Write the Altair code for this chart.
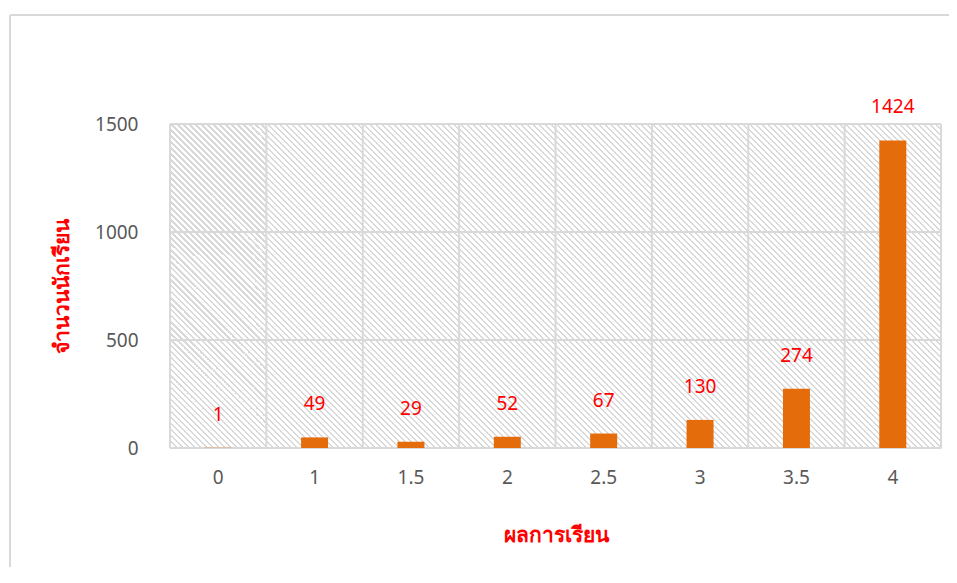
import altair as alt
import pandas as pd

grades = ["0", "1", "1.5", "2", "2.5", "3", "3.5", "4"]
counts = [1, 49, 29, 52, 67, 130, 274, 1424]
y_ticks = [0, 500, 1000, 1500]

W, H = 771, 324

df = pd.DataFrame({"grade": grades, "count": counts})
ticks_df = pd.DataFrame({"v": y_ticks})

# striped (hatched) background per category cell: linear gradient with hard
# stops, 45-degree stripes with a horizontal period of 6 px
CW = W / len(grades)
PERIOD = 6
N = int((CW + H) // PERIOD) + 1
span = N * PERIOD
frac = 0.34
stops = []
for i in range(N):
    a = i / N
    b = (i + frac) / N
    c = (i + 1) / N
    stops += [
        {"offset": a, "color": "#d9d9d9"},
        {"offset": b, "color": "#d9d9d9"},
        {"offset": b, "color": "#ffffff"},
        {"offset": c, "color": "#ffffff"},
    ]
k = span / (CW * CW + H * H)
gradient = alt.LinearGradient(
    gradient="linear",
    stops=stops,
    x1=0, y1=1, x2=CW * k, y2=1 - H * k,
)

x_scale = alt.Scale(domain=grades, paddingInner=0, paddingOuter=0)
y_scale = alt.Scale(domain=[0, 1500], nice=False)

one = alt.Data(values=[{}])
line_col = "#d9d9d9"

border_top = alt.Chart(one).mark_rule(color=line_col, strokeWidth=2).encode(
    x=alt.value(-160), x2=alt.value(W + 200), y=alt.value(-109)
)
border_left = alt.Chart(one).mark_rule(color=line_col, strokeWidth=2).encode(
    x=alt.value(-160), y=alt.value(-109), y2=alt.value(H + 300)
)

bg = alt.Chart(df).mark_rect(fill=gradient).encode(
    x=alt.X("grade:N", scale=x_scale, sort=grades), y=alt.value(0), y2=alt.value(H)
)

hgrid = alt.Chart(ticks_df).mark_rule(color=line_col, strokeWidth=2).encode(
    y=alt.Y("v:Q", scale=y_scale), x=alt.value(0), x2=alt.value(W)
)

vgrid = alt.Chart(df).mark_rule(color=line_col, strokeWidth=2).encode(
    x=alt.X("grade:N", scale=x_scale, bandPosition=0), y=alt.value(0), y2=alt.value(H)
)
vgrid_end = alt.Chart(one).mark_rule(color=line_col, strokeWidth=2).encode(
    x=alt.value(W), y=alt.value(0), y2=alt.value(H)
)

bars = alt.Chart(df).mark_bar(color="#E46C0A", size=27).encode(
    x=alt.X(
        "grade:N", scale=x_scale, sort=grades,
        axis=alt.Axis(
            title="ผลการเรียน", labelAngle=0, labelAlign="center", domain=False, ticks=False, grid=False,
            labelPadding=29, labelFontSize=19, labelColor="#595959",
            labelFont="Noto Sans",
            titleColor="#FF0000", titleFontSize=21, titleFontWeight="bold",
            titleY=87, titleBaseline="middle", titleFont="Noto Sans",
        ),
    ),
    y=alt.Y(
        "count:Q", scale=y_scale,
        axis=alt.Axis(
            title="จำนวนนักเรียน", values=y_ticks, format="d", domain=False, ticks=False, grid=False,
            labelPadding=32, labelFontSize=19, labelColor="#595959",
            labelFont="Noto Sans",
            titleColor="#FF0000", titleFontSize=21, titleFontWeight="bold",
            titleX=-108, titleY=H / 2, titleAngle=-90, titleBaseline="middle",
            titleFont="Noto Sans",
        ),
    ),
)

labels = alt.Chart(df).mark_text(
    color="#FF0000", fontSize=19, dy=-33, baseline="middle", font="Noto Sans"
).encode(
    x=alt.X("grade:N", scale=x_scale, sort=grades),
    y=alt.Y("count:Q", scale=y_scale),
    text=alt.Text("count:Q"),
)

chart = alt.layer(border_top, border_left, bg, hgrid, vgrid, vgrid_end, bars, labels).properties(
    width=W, height=H,
    padding={"left": 162, "top": 116, "right": 8, "bottom": 119},
    autosize=alt.AutoSizeParams(type="none"),
).configure_view(stroke=None).configure(background="white")

chart.save("out.html", embed_options={"renderer": "svg", "actions": False})
